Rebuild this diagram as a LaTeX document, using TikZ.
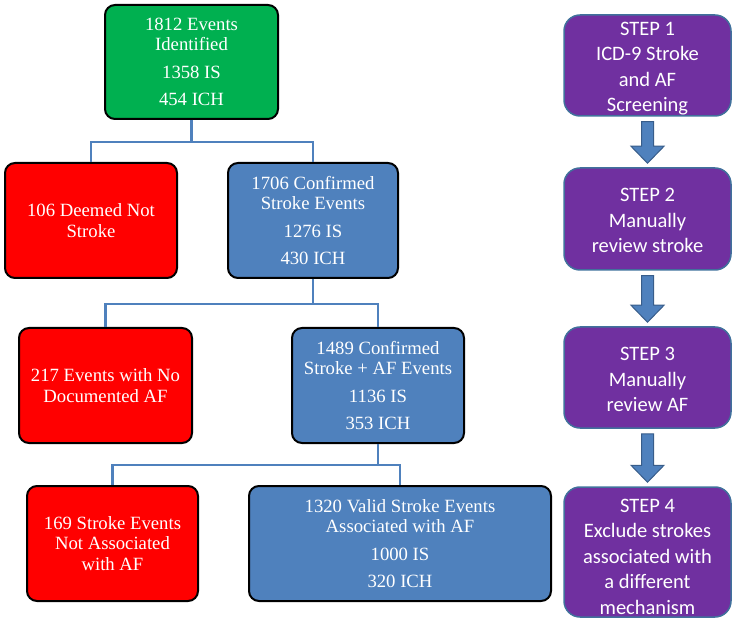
\documentclass[tikz,border=0pt]{standalone}
\usepackage{fontspec}
\setmainfont{Liberation Serif}
\newfontfamily\calfont{Carlito}
\usetikzlibrary{calc}
\definecolor{boxgreen}{HTML}{00B050}
\definecolor{boxred}{HTML}{FF0000}
\definecolor{boxblue}{HTML}{4F81BD}
\definecolor{boxpurple}{HTML}{7030A0}
\definecolor{linkblue}{HTML}{4F81BD}
\definecolor{purpleedge}{HTML}{41719C}
\definecolor{arrowedge}{HTML}{385D8A}
\newcommand\blkarrow[2]{%
  \draw[barrow] ($(#1.south)+(-6,5)$) -- ($(#2.north)+(-6,-21)$) -- ($(#2.north)+(-16.5,-21)$)
     -- ($(#2.north)+(0,-4)$) -- ($(#2.north)+(16.5,-21)$) -- ($(#2.north)+(6,-21)$)
     -- ($(#1.south)+(6,5)$) -- cycle;}
\begin{document}
\begin{tikzpicture}[x=1pt,y=-1pt,
  flowbox/.style={draw=black, line width=2pt, rounded corners=10pt, text=white,
    align=center, inner sep=0pt, font=\fontsize{18.7}{20.5}\selectfont},
  greenbox/.style={flowbox, fill=boxgreen},
  redbox/.style={flowbox, fill=boxred},
  bluebox/.style={flowbox, fill=boxblue},
  stepbox/.style={draw=purpleedge, line width=1.5pt, fill=boxpurple, rounded corners=16pt,
    text=white, align=center, inner sep=0pt, minimum width=167pt,
    font=\calfont\fontsize{20.5}{25.5}\selectfont},
  link/.style={draw=linkblue, line width=2.2pt},
  barrow/.style={draw=arrowedge, line width=1pt, fill=boxblue, line join=miter}
]
\useasboundingbox (0,0) rectangle (750,628);

% left flow
\node[greenbox, minimum width=173pt, minimum height=114pt] (g) at (191.5,62)
  {1812 Events\\Identified\\[7pt]1358 IS\\[7pt]454 ICH};
\node[redbox, minimum width=172pt, minimum height=115pt] (r1) at (91,220.5)
  {106 Deemed Not\\Stroke};
\node[bluebox, minimum width=170pt, minimum height=115pt] (b1) at (313,220.5)
  {1706 Confirmed\\Stroke Events\\[7pt]1276 IS\\[7pt]430 ICH};
\node[redbox, minimum width=173pt, minimum height=115pt] (r2) at (105.5,385.5)
  {217 Events with No\\Documented AF};
\node[bluebox, minimum width=172pt, minimum height=115pt] (b2) at (378,385.5)
  {1489 Confirmed\\Stroke + AF Events\\[7pt]1136 IS\\[7pt]353 ICH};
\node[redbox, minimum width=171pt, minimum height=115pt] (r3) at (112.5,543.5)
  {169 Stroke Events\\Not Associated\\with AF};
\node[bluebox, minimum width=302pt, minimum height=115pt] (b3) at (400,543.5)
  {1320 Valid Stroke Events\\Associated with AF\\[7pt]1000 IS\\[7pt]320 ICH};

\draw[link] (g.south) -- ++(0,22) coordinate (j1);
\draw[link] (r1.north) |- (j1) -| (b1.north);
\draw[link] (b1.south) -- ++(0,25) coordinate (j2);
\draw[link] (r2.north) |- (j2) -| (b2.north);
\draw[link] (b2.south) -- ++(0,21) coordinate (j3);
\draw[link] (r3.north) |- (j3) -| (b3.north);

% steps
\node[stepbox, minimum height=101pt] (s1) at (647.5,65.5)
  {\rule{0pt}{20pt}STEP 1\\ICD-9 Stroke\\and AF\\Screening};
\node[stepbox, minimum height=102pt] (s2) at (647.5,219)
  {\rule{0pt}{17pt}STEP 2\\Manually\\review stroke};
\node[stepbox, minimum height=101pt] (s3) at (647.5,377.5)
  {\rule{0pt}{17.5pt}STEP 3\\Manually\\review AF};
\node[stepbox, minimum height=130pt] (s4) at (647.5,552)
  {\rule{0pt}{23pt}STEP 4\\Exclude strokes\\associated with\\a different\\mechanism};

\blkarrow{s1}{s2}
\blkarrow{s2}{s3}
\blkarrow{s3}{s4}
\end{tikzpicture}
\end{document}
